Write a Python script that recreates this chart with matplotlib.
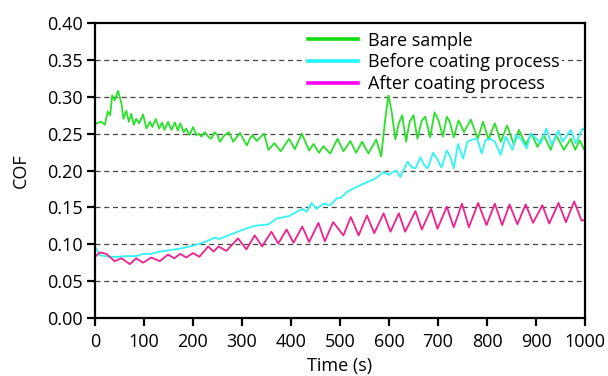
import matplotlib
matplotlib.use("Agg")
import matplotlib.pyplot as plt
from matplotlib.lines import Line2D

plt.rcParams['font.family'] = ['Open Sans', 'DejaVu Sans']

# Bare sample
bare_t = [0, 3, 13, 20, 26, 31, 35, 40, 47, 54, 58, 64, 69, 74, 79, 84, 90, 98, 105, 112, 117, 124, 131,
          137, 142, 149, 156, 163, 169, 174, 181, 186, 193, 200, 207, 212, 217, 224, 231, 237, 244, 250,
          255, 262, 265, 273, 282, 296, 303, 310, 316, 321, 330, 337, 345, 354, 366, 379, 396, 408, 422,
          437, 446, 457, 466, 480, 495, 507, 521, 533, 545, 558, 574, 584, 592, 599, 606, 613, 620, 627,
          635, 642, 650, 658, 667, 674, 684, 693, 701, 710, 718, 724, 732, 742, 753, 767, 781, 792, 803,
          816, 828, 841, 855, 865, 879, 891, 903, 916, 930, 941, 957, 971, 980, 989, 1000]
bare_v = [0.262, 0.264, 0.266, 0.262, 0.280, 0.275, 0.302, 0.295, 0.308, 0.291, 0.270, 0.281, 0.266,
          0.277, 0.262, 0.270, 0.264, 0.276, 0.257, 0.266, 0.259, 0.270, 0.257, 0.265, 0.255, 0.266,
          0.255, 0.265, 0.254, 0.264, 0.252, 0.257, 0.248, 0.259, 0.248, 0.250, 0.246, 0.252, 0.246,
          0.243, 0.252, 0.248, 0.239, 0.246, 0.248, 0.252, 0.239, 0.251, 0.242, 0.234, 0.243, 0.248,
          0.240, 0.245, 0.250, 0.228, 0.237, 0.226, 0.243, 0.229, 0.250, 0.227, 0.236, 0.224, 0.233,
          0.223, 0.243, 0.226, 0.240, 0.224, 0.239, 0.223, 0.242, 0.219, 0.268, 0.303, 0.277, 0.242,
          0.264, 0.275, 0.239, 0.266, 0.275, 0.243, 0.268, 0.273, 0.245, 0.279, 0.268, 0.246, 0.273,
          0.266, 0.245, 0.268, 0.252, 0.269, 0.243, 0.266, 0.242, 0.264, 0.239, 0.261, 0.235, 0.255,
          0.235, 0.250, 0.232, 0.248, 0.228, 0.248, 0.228, 0.243, 0.228, 0.241, 0.226]

# Before coating process
before_t = [0, 10, 30, 50, 64, 84, 98, 115, 132, 152, 173, 193, 210, 224, 234, 244, 253, 272, 299, 326,
            354, 371, 395, 412, 423, 432, 442, 452, 466, 480, 493, 502, 514, 535, 555, 572, 589, 599,
            606, 615, 623, 638, 647, 654, 664, 672, 679, 690, 698, 707, 718, 725, 732, 741, 751, 760,
            770, 780, 789, 797, 807, 816, 828, 838, 852, 859, 869, 881, 889, 901, 910, 921, 932, 946,
            954, 971, 981, 995, 1000]
before_v = [0.097, 0.085, 0.083, 0.083, 0.084, 0.084, 0.087, 0.087, 0.090, 0.092, 0.094, 0.097, 0.100,
            0.103, 0.106, 0.109, 0.107, 0.112, 0.119, 0.125, 0.127, 0.135, 0.138, 0.144, 0.148, 0.144,
            0.156, 0.148, 0.155, 0.153, 0.162, 0.163, 0.171, 0.178, 0.184, 0.189, 0.198, 0.194, 0.197,
            0.200, 0.191, 0.212, 0.204, 0.203, 0.218, 0.207, 0.203, 0.224, 0.216, 0.204, 0.227, 0.219,
            0.203, 0.236, 0.216, 0.239, 0.242, 0.243, 0.223, 0.241, 0.243, 0.239, 0.221, 0.246, 0.228,
            0.248, 0.243, 0.230, 0.250, 0.243, 0.237, 0.257, 0.235, 0.254, 0.239, 0.255, 0.237, 0.257,
            0.254]

# After coating process
after_t = [0, 10, 23, 40, 54, 71, 84, 98, 115, 132, 149, 162, 174, 186, 200, 213, 231, 242, 252, 268,
           292, 309, 326, 341, 360, 374, 391, 405, 423, 437, 456, 469, 486, 507, 522, 538, 555, 570,
           589, 603, 620, 633, 654, 667, 686, 699, 718, 732, 749, 763, 782, 799, 816, 831, 846, 862,
           879, 894, 913, 927, 946, 961, 978, 993, 1000]
after_v = [0.083, 0.089, 0.087, 0.077, 0.081, 0.073, 0.081, 0.075, 0.082, 0.077, 0.086, 0.081, 0.087,
           0.082, 0.088, 0.083, 0.097, 0.090, 0.097, 0.091, 0.108, 0.093, 0.112, 0.097, 0.117, 0.101,
           0.120, 0.102, 0.124, 0.103, 0.129, 0.104, 0.130, 0.112, 0.137, 0.112, 0.139, 0.115, 0.142,
           0.117, 0.142, 0.117, 0.145, 0.120, 0.148, 0.121, 0.151, 0.123, 0.155, 0.123, 0.156, 0.126,
           0.155, 0.126, 0.154, 0.127, 0.154, 0.129, 0.153, 0.128, 0.156, 0.130, 0.158, 0.132, 0.133]

labels = ["Bare sample", "Before coating process", "After coating process"]
line_colors = ["#2BE02B", "#33F4F4", "#F0208C"]
legend_colors = ["#11DD11", "#22F4FF", "#FF00FF"]

W, H = 608, 376
fig = plt.figure(figsize=(W / 100, H / 100), dpi=100)
ax = fig.add_axes([95 / W, 1 - 318 / H, 490 / W, 295 / H])

ax.plot(bare_t, bare_v, color=line_colors[0], lw=1.3)
ax.plot(before_t, before_v, color=line_colors[1], lw=1.3)
ax.plot(after_t, after_v, color=line_colors[2], lw=1.3)

ax.set_xlim(0, 1000)
ax.set_ylim(0, 0.40)
ax.set_xticks(range(0, 1001, 100))
yt = [i * 0.05 for i in range(9)]
ax.set_yticks(yt)
ax.set_yticklabels([f"{v:.2f}" for v in yt])
for v in yt[1:-1]:
    ax.axhline(v, color="#444444", lw=0.9, ls=(0, (4, 3)), zorder=0)

for s in ax.spines.values():
    s.set_linewidth(1.6)
ax.tick_params(direction="out", length=6, width=1.6, labelsize=13)
ax.tick_params(axis="x", pad=5)
ax.tick_params(axis="y", pad=3)
ax.set_xlabel("Time (s)", fontsize=13, labelpad=4)
ax.set_ylabel("COF", fontsize=13, labelpad=12)

handles = [Line2D([], [], color=c, lw=2.6) for c in legend_colors]
leg = fig.legend(handles, labels, loc="upper left", bbox_to_anchor=(306 / W, 1 - 30 / H),
                 frameon=True, facecolor="white", edgecolor="none", framealpha=1.0, fancybox=False,
                 fontsize=13, handlelength=2.8, handletextpad=0.55,
                 labelspacing=0.2, borderpad=0.1, borderaxespad=0)

fig.savefig("out.png", dpi=100)
